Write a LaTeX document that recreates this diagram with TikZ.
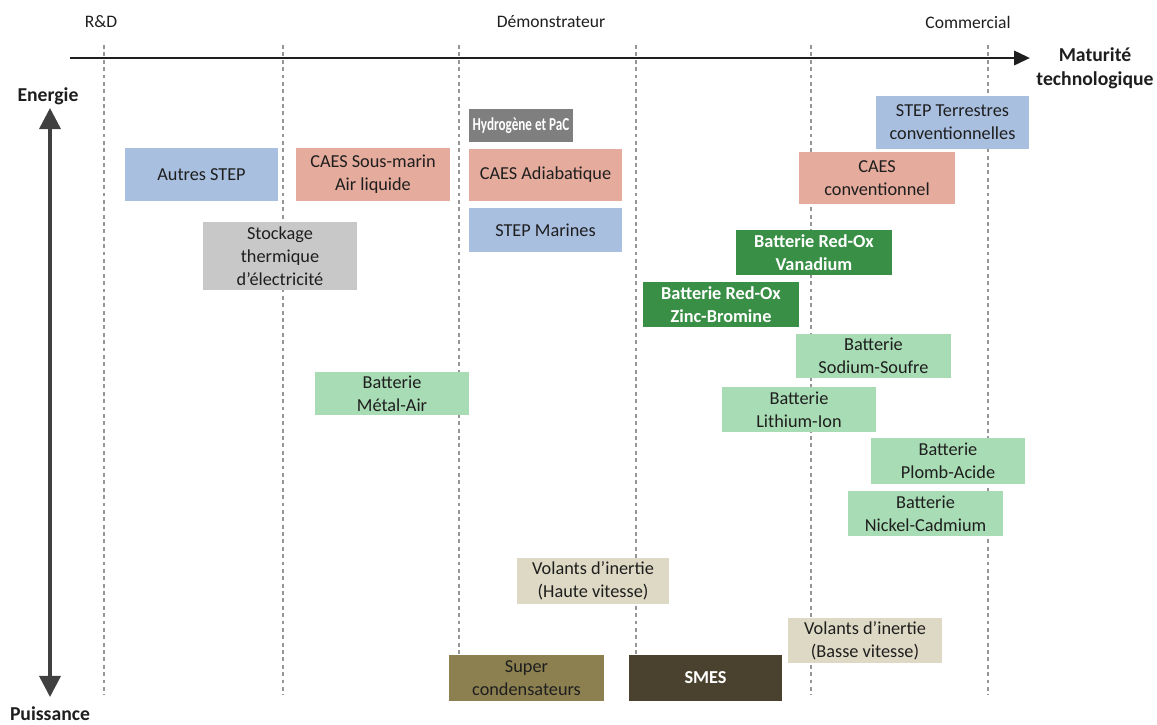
\documentclass[tikz,border=0pt]{standalone}
\usepackage{fontspec}
\setmainfont{Carlito}
\newfontfamily\condbold[FakeStretch=0.72]{Carlito Bold}
\usetikzlibrary{arrows.meta}
\definecolor{txt}{RGB}{30,30,30}
\definecolor{axisc}{RGB}{30,30,30}
\definecolor{varrow}{RGB}{64,64,64}
\definecolor{dashc}{RGB}{150,150,150}
\definecolor{cblue}{RGB}{169,191,224}
\definecolor{csalmon}{RGB}{229,171,157}
\definecolor{cgray}{RGB}{200,200,200}
\definecolor{cdgray}{RGB}{127,127,127}
\definecolor{cdgreen}{RGB}{58,143,70}
\definecolor{clgreen}{RGB}{168,220,180}
\definecolor{cbeige}{RGB}{221,217,196}
\definecolor{colive}{RGB}{140,128,80}
\definecolor{cdolive}{RGB}{74,66,46}
\tikzset{
  box/.style={inner sep=0pt, align=center, text=txt, font=\fontsize{10.4}{13}\selectfont},
  boxw/.style={box, text=white, font=\fontsize{10.4}{13}\selectfont\bfseries},
  lbl/.style={inner sep=0pt, text=txt, font=\fontsize{10}{12}\selectfont},
  blbl/.style={inner sep=0pt, align=center, text=txt, font=\fontsize{11.2}{13.5}\selectfont\bfseries},
  vdash/.style={dashc, line width=0.6pt, dash pattern=on 2.2pt off 2pt},
}
\begin{document}
\begin{tikzpicture}[x=0.02cm, y=-0.02cm]
\useasboundingbox (0,0) rectangle (1157,724);
% dashed vertical lines
\foreach \xx/\nm in {104/a,283/b,459/c,636/d,811/e,988/f}{
  \coordinate (t\nm) at (\xx,45);
  \coordinate (b\nm) at (\xx,695);
  \draw[vdash] (t\nm) -- (b\nm);
}
% axes
\coordinate (hx0) at (70,58);
\coordinate (hx1) at (1030,58);
\draw[axisc, line width=1.7pt, -{Triangle[length=9pt,width=8pt]}] (hx0) -- (hx1);
\coordinate (vy0) at (50,108);
\coordinate (vy1) at (50,697);
\draw[varrow, line width=2pt, {Triangle[length=12pt,width=12pt]}-{Triangle[length=12pt,width=12pt]}] (vy0) -- (vy1);
% axis labels
\node[lbl] (rd) at (101,22) {R\&D};
\node[lbl] (demo) at (551,22) {Démonstrateur};
\node[lbl] (comm) at (968,22) {Commercial};
\node[blbl] (energie) at (48,96) {Energie};
\node[blbl] (puiss) at (50,714) {Puissance};
\node[blbl] (matur) at (1095,68) {Maturité\\technologique};
% boxes
\node[box, fill=cblue, minimum width=3.06cm, minimum height=1.06cm] (autres) at (201.5,174.5) {Autres STEP};
\node[box, fill=csalmon, minimum width=3.08cm, minimum height=1.06cm] (caessm) at (373,174.5) {CAES Sous-marin\\Air liquide};
\node[box, fill=cgray, minimum width=3.08cm, minimum height=1.36cm] (stock) at (280,256) {Stockage\\thermique\\d’électricité};
\node[boxw, fill=cdgray, minimum width=2.08cm, minimum height=0.66cm, font=\condbold\fontsize{10.4}{12}\selectfont] (hydro) at (521,125.5) {Hydrogène et PaC};
\node[box, fill=csalmon, minimum width=3.06cm, minimum height=1.04cm] (caesad) at (545.5,175) {CAES Adiabatique};
\node[box, fill=cblue, minimum width=3.06cm, minimum height=0.88cm] (stepmar) at (545.5,230) {STEP Marines};
\node[box, fill=cblue, minimum width=3.06cm, minimum height=1.06cm] (stepterr) at (952.5,122.5) {STEP Terrestres\\conventionnelles};
\node[box, fill=csalmon, minimum width=3.12cm, minimum height=1.04cm] (caesconv) at (877,178) {CAES\\conventionnel};
\node[boxw, fill=cdgreen, minimum width=3.12cm, minimum height=0.9cm] (vanad) at (814,252.5) {Batterie Red-Ox\\Vanadium};
\node[boxw, fill=cdgreen, minimum width=3.12cm, minimum height=0.9cm] (zinc) at (721,304.5) {Batterie Red-Ox\\Zinc-Bromine};
\node[box, fill=clgreen, minimum width=3.1cm, minimum height=0.88cm] (sodium) at (873.5,356) {Batterie\\Sodium-Soufre};
\node[box, fill=clgreen, minimum width=3.08cm, minimum height=0.86cm] (metal) at (392,393.5) {Batterie\\Métal-Air};
\node[box, fill=clgreen, minimum width=3.08cm, minimum height=0.9cm] (lithium) at (799,409.5) {Batterie\\Lithium-Ion};
\node[box, fill=clgreen, minimum width=3.08cm, minimum height=0.92cm] (plomb) at (948,461) {Batterie\\Plomb-Acide};
\node[box, fill=clgreen, minimum width=3.1cm, minimum height=0.9cm] (nickel) at (925.5,513.5) {Batterie\\Nickel-Cadmium};
\node[box, fill=cbeige, minimum width=3.04cm, minimum height=0.92cm] (volh) at (593,581) {Volants d’inertie\\(Haute vitesse)};
\node[box, fill=cbeige, minimum width=3.08cm, minimum height=0.9cm] (volb) at (865,640.5) {Volants d’inertie\\(Basse vitesse)};
\node[box, fill=colive, minimum width=3.1cm, minimum height=0.92cm] (super) at (526.5,678) {Super\\condensateurs};
\node[boxw, fill=cdolive, minimum width=3.06cm, minimum height=0.92cm] (smes) at (705.5,678) {SMES};
\end{tikzpicture}
\end{document}
